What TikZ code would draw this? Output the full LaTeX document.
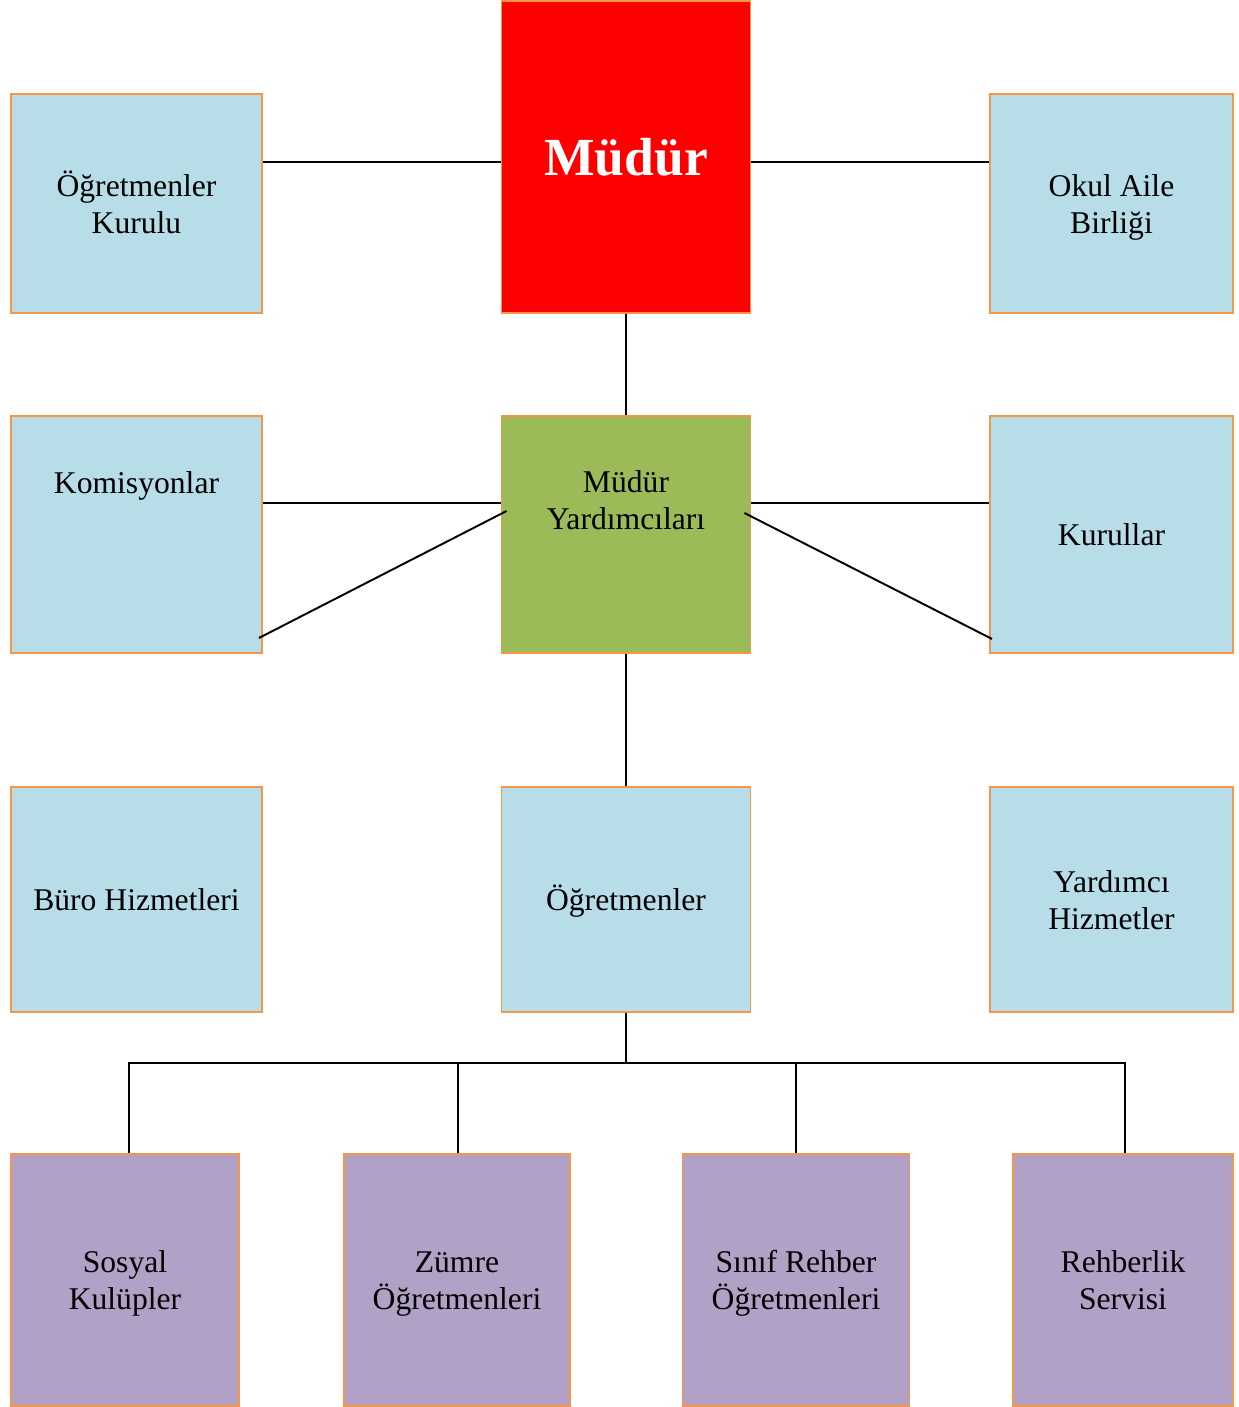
\documentclass[tikz,border=0pt]{standalone}
\usepackage{fontspec}
\setmainfont{Liberation Serif}
\definecolor{kutumavi}{HTML}{B7DDE8}
\definecolor{kutukenar}{HTML}{F79646}
\definecolor{kutuyesil}{HTML}{9BBB59}
\definecolor{kutumor}{HTML}{B2A1C7}
\usetikzlibrary{calc, positioning}
\newcommand\ks{\rule[-4pt]{0pt}{21pt}}

\tikzset{
	kutu/.style 2 args={draw=kutukenar, line width=1.1pt, minimum width=#1*0.02cm, minimum height=#2*0.02cm, inner sep=0pt, align=center, font=\fontsize{18}{21}\selectfont},
	mavi/.style={fill=kutumavi},
	mor/.style={fill=kutumor},
	hat/.style={black, line width=1.1pt}
}

\begin{document}
\begin{tikzpicture}[x=0.02cm, y=-0.02cm]
	\useasboundingbox (0,0) rectangle (1239,1407);
	
	% ust sira
	\node[kutu={249}{312}, fill=red, text=white, font=\bfseries\fontsize{30.5}{34}\selectfont] (mudur) at (626,157) {Müdür};
	\node[kutu={251}{219}, mavi] (ogrkurul) at (136.5,203.5) {\ks Öğretmenler\\\ks Kurulu};
	\node[kutu={243}{219}, mavi] (okulaile) at (1111.5,203.5) {\ks Okul Aile\\\ks Birliği};
	
	% orta sira
	\node[kutu={251}{237}, mavi] (komisyon) at (136.5,534.5) {};
	\node[kutu={249}{237}, fill=kutuyesil] (myard) at (626,534.5) {};
	\node[kutu={243}{237}, mavi] (kurullar) at (1111.5,534.5) {\ks Kurullar};
	\node[font=\fontsize{18}{21}\selectfont] (komisyonyazi) at (136.5,482) {\ks Komisyonlar};
	\node[align=center, font=\fontsize{18}{21}\selectfont] (myardyazi) at (626,500) {\ks Müdür\\\ks Yardımcıları};
	
	\node[kutu={251}{225}, mavi] (buro) at (136.5,899.5) {\ks Büro Hizmetleri};
	\node[kutu={249}{225}, mavi] (ogretmen) at (626,899.5) {\ks Öğretmenler};
	\node[kutu={243}{225}, mavi] (yardhiz) at (1111.5,899.5) {\ks Yardımcı\\\ks Hizmetler};
	
	% alt sira
	\node[kutu={228}{252}, mor] (sosyal) at (125,1280) {\ks Sosyal\\\ks Kulüpler};
	\node[kutu={226}{252}, mor] (zumre) at (457,1280) {\ks Zümre\\\ks Öğretmenleri};
	\node[kutu={227}{252}, mor] (sinif) at (796,1280) {\ks Sınıf Rehber\\\ks Öğretmenleri};
	\node[kutu={220}{252}, mor] (rehber) at (1123,1280) {\ks Rehberlik\\\ks Servisi};
	
	% baglantilar
	\coordinate (ust) at (0,162);
	\coordinate (orta) at (0,503);
	\draw[hat] (ogrkurul.east |- ust) -- (mudur.west |- ust);
	\draw[hat] (mudur.east |- ust) -- (okulaile.west |- ust);
	\draw[hat] (mudur.south) -- (myard.north);
	\draw[hat] (komisyon.east |- orta) -- (myard.west |- orta);
	\draw[hat] (myard.east |- orta) -- (kurullar.west |- orta);
	\draw[hat] ($(myard.west)+(6,-23.5)$) -- ($(komisyon.south east)+(-4,-16)$);
	\draw[hat] ($(myard.east)+(-7,-21.5)$) -- ($(kurullar.south west)+(3,-15)$);
	\draw[hat] (myard.south) -- (ogretmen.north);
	
	\draw[hat] (ogretmen.south) -- ++(0,50) coordinate (bara);
	\draw[hat] ($(sosyal.north)+(4,0)$) |- (bara) -| ($(rehber.north)+(2,0)$);
	\draw[hat] ($(zumre.north)+(1,0)$) -- ($(zumre.north |- bara)+(1,0)$);
	\draw[hat] (sinif.north) -- (sinif.north |- bara);
	
\end{tikzpicture}
\end{document}
